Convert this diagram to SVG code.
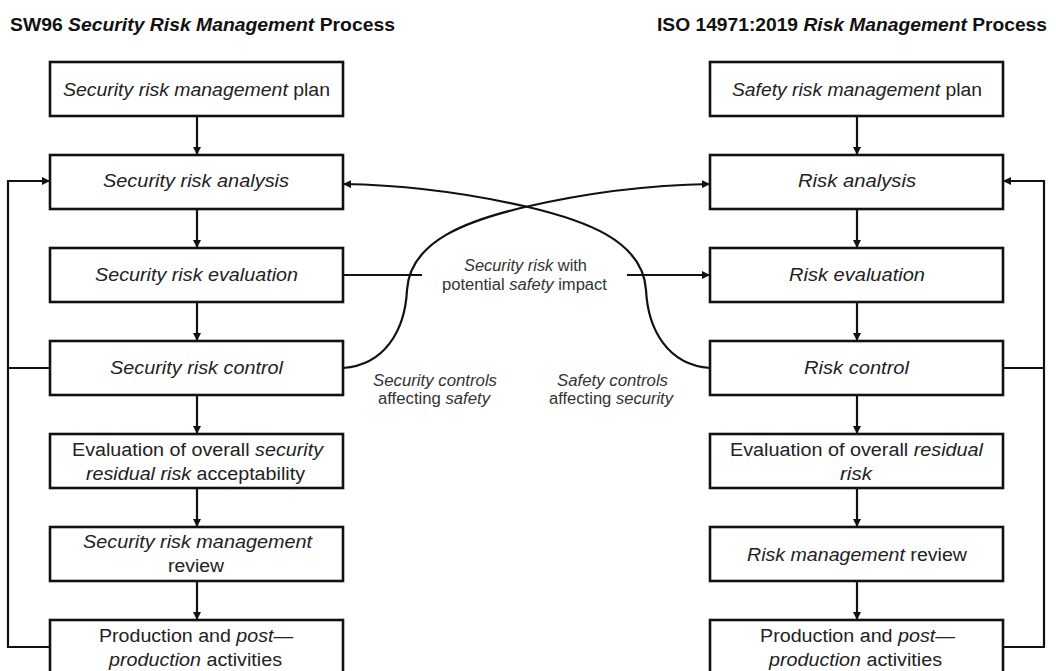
<svg xmlns="http://www.w3.org/2000/svg" width="1056" height="671" viewBox="0 0 1056 671">
  <style>
    .box { fill: #fff; stroke: #111; stroke-width: 2.6; }
    .lbl { font-family: "Liberation Sans", Arial, sans-serif; font-size: 18px; fill: #222; text-anchor: middle; }
    .note { font-family: "Liberation Sans", Arial, sans-serif; font-size: 16px; fill: #333; text-anchor: middle; }
    .title { font-family: "Liberation Sans", Arial, sans-serif; font-size: 18.5px; font-weight: bold; fill: #111; }
    .it { font-style: italic; }
    .wire { fill: none; stroke: #111; stroke-width: 2.2; }
  </style>
  <defs>
    <marker id="arrow" viewBox="0 0 10 10" refX="10" refY="5" markerWidth="8" markerHeight="8" markerUnits="userSpaceOnUse" orient="auto">
      <path d="M0,0 L10,5 L0,10 z" fill="#111"/>
    </marker>
  </defs>

  <rect width="1056" height="671" fill="#fff"/>

  <!-- column headings -->
  <text class="title" x="10" y="31" textLength="385" lengthAdjust="spacingAndGlyphs">SW96 <tspan class="it">Security Risk Management</tspan> Process</text>
  <text class="title" x="657" y="31" textLength="390" lengthAdjust="spacingAndGlyphs">ISO 14971:2019 <tspan class="it">Risk Management</tspan> Process</text>

  <!-- connectors -->
  <g id="connectors">
    <!-- left column flow -->
    <line class="wire" x1="197" y1="116" x2="197" y2="155" marker-end="url(#arrow)"/>
    <line class="wire" x1="197" y1="209" x2="197" y2="248" marker-end="url(#arrow)"/>
    <line class="wire" x1="197" y1="302" x2="197" y2="341" marker-end="url(#arrow)"/>
    <line class="wire" x1="197" y1="395" x2="197" y2="434" marker-end="url(#arrow)"/>
    <line class="wire" x1="197" y1="488" x2="197" y2="527" marker-end="url(#arrow)"/>
    <line class="wire" x1="197" y1="581" x2="197" y2="620" marker-end="url(#arrow)"/>
    <!-- right column flow -->
    <line class="wire" x1="857" y1="116" x2="857" y2="155" marker-end="url(#arrow)"/>
    <line class="wire" x1="857" y1="209" x2="857" y2="248" marker-end="url(#arrow)"/>
    <line class="wire" x1="857" y1="302" x2="857" y2="341" marker-end="url(#arrow)"/>
    <line class="wire" x1="857" y1="395" x2="857" y2="434" marker-end="url(#arrow)"/>
    <line class="wire" x1="857" y1="488" x2="857" y2="527" marker-end="url(#arrow)"/>
    <line class="wire" x1="857" y1="581" x2="857" y2="620" marker-end="url(#arrow)"/>
    <!-- left feedback loop -->
    <polyline class="wire" points="50,647 8,647 8,181 50,181" marker-end="url(#arrow)"/>
    <line class="wire" x1="50" y1="368" x2="8" y2="368"/>
    <!-- right feedback loop -->
    <polyline class="wire" points="1003,647 1044,647 1044,181 1003,181" marker-end="url(#arrow)"/>
    <line class="wire" x1="1003" y1="368" x2="1044" y2="368"/>
    <!-- cross-links between the two processes -->
    <path class="wire" d="M343,368 C385,365 405,330 407,290 C410,240 470,220 525,207 C590,192 650,185 710,184" marker-end="url(#arrow)"/>
    <path class="wire" d="M710,368 C668,365 648,330 646,290 C643,240 583,220 528,207 C463,192 403,185 343,184" marker-end="url(#arrow)"/>
    <line class="wire" x1="343" y1="275" x2="422" y2="275"/>
    <line class="wire" x1="627" y1="275" x2="710" y2="275" marker-end="url(#arrow)"/>
  </g>

  <!-- cross-link labels -->
  <text class="note" x="525.5" y="271" textLength="123" lengthAdjust="spacingAndGlyphs"><tspan class="it">Security risk</tspan> with</text>
  <text class="note" x="524.5" y="290" textLength="165" lengthAdjust="spacingAndGlyphs">potential <tspan class="it">safety</tspan> impact</text>
  <text class="note it" x="435" y="386" textLength="124" lengthAdjust="spacingAndGlyphs">Security controls</text>
  <text class="note" x="434" y="404" textLength="112" lengthAdjust="spacingAndGlyphs">affecting <tspan class="it">safety</tspan></text>
  <text class="note it" x="612.5" y="386" textLength="111" lengthAdjust="spacingAndGlyphs">Safety controls</text>
  <text class="note" x="611" y="404" textLength="124" lengthAdjust="spacingAndGlyphs">affecting <tspan class="it">security</tspan></text>

  <!-- left column nodes -->
  <g id="sec-plan">
    <rect class="box" x="50" y="62" width="293" height="54"/>
    <text class="lbl" x="196.5" y="95.5" textLength="267" lengthAdjust="spacingAndGlyphs"><tspan class="it">Security risk management</tspan> plan</text>
  </g>
  <g id="sec-analysis">
    <rect class="box" x="50" y="155" width="293" height="54"/>
    <text class="lbl it" x="196" y="187" textLength="186" lengthAdjust="spacingAndGlyphs">Security risk analysis</text>
  </g>
  <g id="sec-evaluation">
    <rect class="box" x="50" y="248" width="293" height="54"/>
    <text class="lbl it" x="196.5" y="280.5" textLength="203" lengthAdjust="spacingAndGlyphs">Security risk evaluation</text>
  </g>
  <g id="sec-control">
    <rect class="box" x="50" y="341" width="293" height="54"/>
    <text class="lbl it" x="196.5" y="373.5" textLength="173" lengthAdjust="spacingAndGlyphs">Security risk control</text>
  </g>
  <g id="sec-residual">
    <rect class="box" x="50" y="434" width="293" height="54"/>
    <text class="lbl" x="197.5" y="455.5" textLength="251" lengthAdjust="spacingAndGlyphs">Evaluation of overall <tspan class="it">security</tspan></text>
    <text class="lbl" x="195.5" y="479.5" textLength="219" lengthAdjust="spacingAndGlyphs"><tspan class="it">residual risk</tspan> acceptability</text>
  </g>
  <g id="sec-review">
    <rect class="box" x="50" y="527" width="293" height="54"/>
    <text class="lbl it" x="197.5" y="548" textLength="229" lengthAdjust="spacingAndGlyphs">Security risk management</text>
    <text class="lbl" x="196" y="572" textLength="56" lengthAdjust="spacingAndGlyphs">review</text>
  </g>
  <g id="sec-production">
    <rect class="box" x="50" y="620" width="293" height="54"/>
    <text class="lbl" x="196" y="642" textLength="194" lengthAdjust="spacingAndGlyphs">Production and <tspan class="it">post—</tspan></text>
    <text class="lbl" x="195.5" y="665.5" textLength="173" lengthAdjust="spacingAndGlyphs"><tspan class="it">production</tspan> activities</text>
  </g>

  <!-- right column nodes -->
  <g id="saf-plan">
    <rect class="box" x="710" y="62" width="293" height="54"/>
    <text class="lbl" x="857" y="95.5" textLength="250" lengthAdjust="spacingAndGlyphs"><tspan class="it">Safety risk management</tspan> plan</text>
  </g>
  <g id="saf-analysis">
    <rect class="box" x="710" y="155" width="293" height="54"/>
    <text class="lbl it" x="857" y="187" textLength="118" lengthAdjust="spacingAndGlyphs">Risk analysis</text>
  </g>
  <g id="saf-evaluation">
    <rect class="box" x="710" y="248" width="293" height="54"/>
    <text class="lbl it" x="857" y="280.5" textLength="136" lengthAdjust="spacingAndGlyphs">Risk evaluation</text>
  </g>
  <g id="saf-control">
    <rect class="box" x="710" y="341" width="293" height="54"/>
    <text class="lbl it" x="856.5" y="373.5" textLength="105" lengthAdjust="spacingAndGlyphs">Risk control</text>
  </g>
  <g id="saf-residual">
    <rect class="box" x="710" y="434" width="293" height="54"/>
    <text class="lbl" x="856.5" y="455.5" textLength="253" lengthAdjust="spacingAndGlyphs">Evaluation of overall <tspan class="it">residual</tspan></text>
    <text class="lbl it" x="856" y="479.5" textLength="32" lengthAdjust="spacingAndGlyphs">risk</text>
  </g>
  <g id="saf-review">
    <rect class="box" x="710" y="527" width="293" height="54"/>
    <text class="lbl" x="857" y="560.5" textLength="220" lengthAdjust="spacingAndGlyphs"><tspan class="it">Risk management</tspan> review</text>
  </g>
  <g id="saf-production">
    <rect class="box" x="710" y="620" width="293" height="54"/>
    <text class="lbl" x="857.5" y="642" textLength="195" lengthAdjust="spacingAndGlyphs">Production and <tspan class="it">post—</tspan></text>
    <text class="lbl" x="855.5" y="665.5" textLength="173" lengthAdjust="spacingAndGlyphs"><tspan class="it">production</tspan> activities</text>
  </g>
</svg>
